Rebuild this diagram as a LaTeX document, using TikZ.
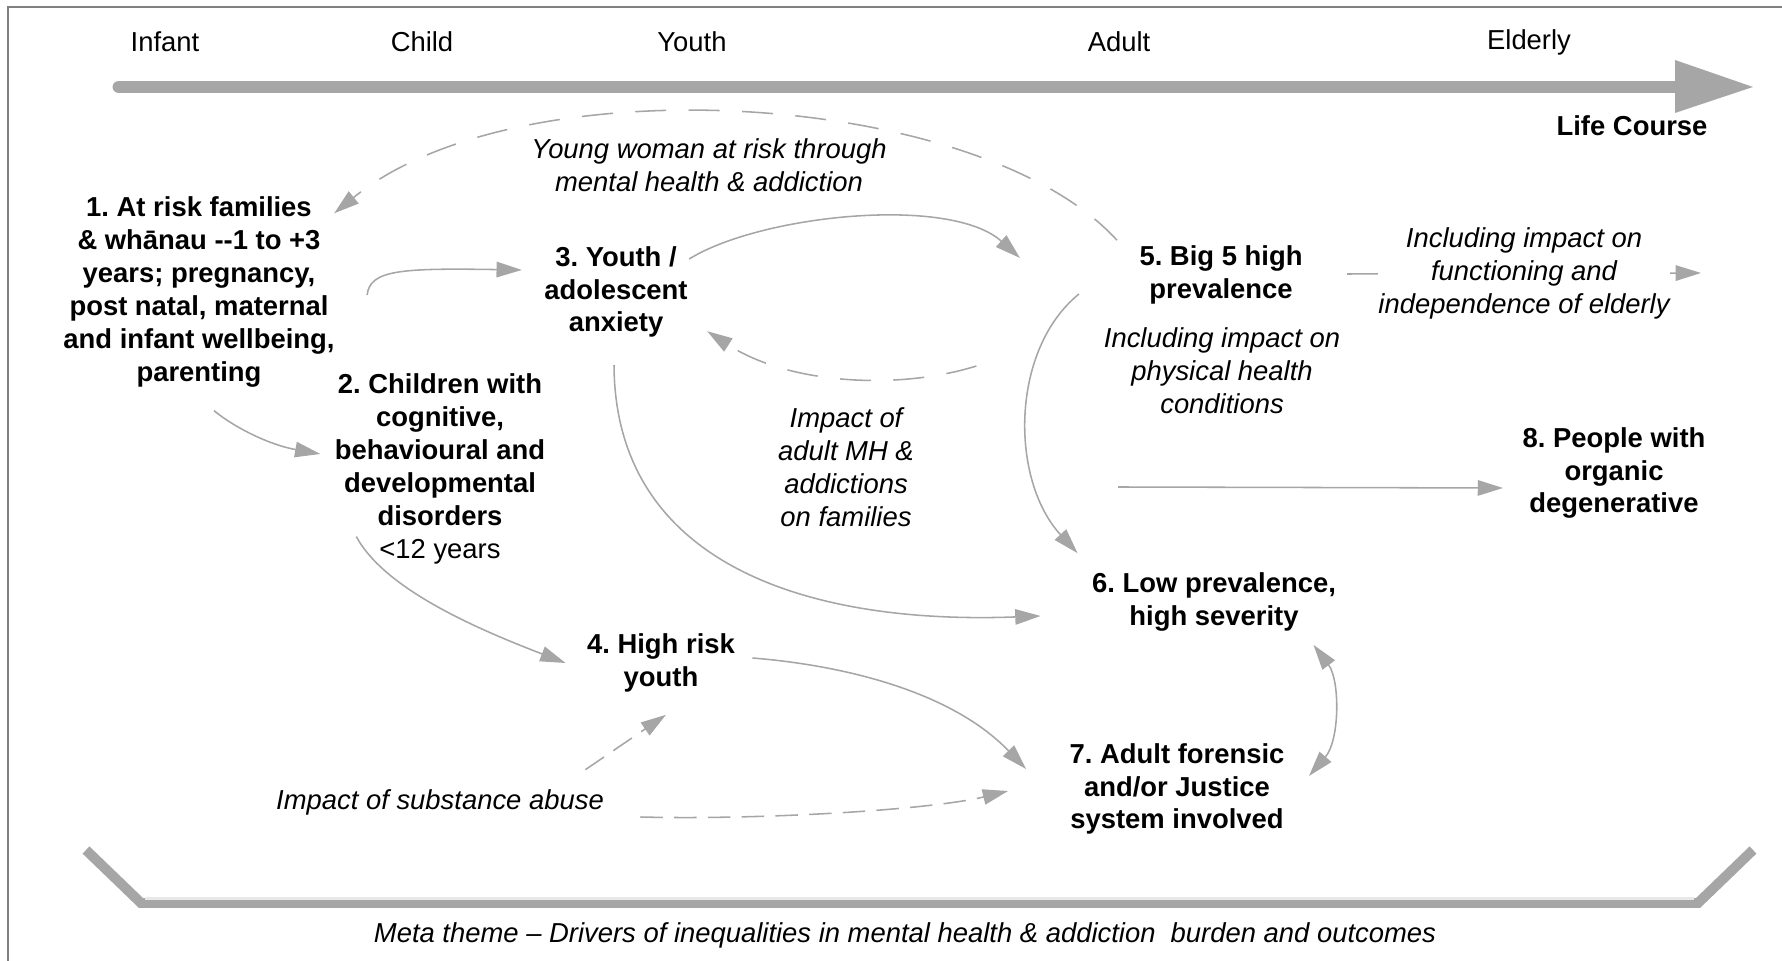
\documentclass[tikz,border=0pt]{standalone}
\usepackage{fontspec}
\setmainfont{Liberation Sans}
\usetikzlibrary{arrows.meta}
\definecolor{linkgray}{RGB}{166,166,166}
\definecolor{framegray}{RGB}{128,128,128}
\frenchspacing
\begin{document}
\begin{tikzpicture}[x=0.125mm, y=-0.125mm,
        txt/.style={font=\fontsize{9.75}{11.7}\selectfont, inner sep=0pt, align=center},
        group/.style={txt, font=\fontsize{9.75}{11.7}\selectfont\bfseries},
        note/.style={txt, font=\fontsize{9.75}{11.7}\selectfont\itshape},
        link/.style={draw=linkgray, line width=0.55pt, -{Triangle[length=9pt,width=5.5pt]}},
        dashlink/.style={link, dash pattern=on 11pt off 8pt},
        shortdash/.style={link, dash pattern=on 8pt off 4pt}]
    \useasboundingbox (0,0) rectangle (1782,961);
    \draw[framegray, line width=0.7pt] (8,961) -- (8,7) -- (1782,7);
    \coordinate (lifeStart) at (119,87);
    \coordinate (lifeEnd) at (1676,87);
    \draw[linkgray, line width=4.6pt, line cap=round] (lifeStart) -- (lifeEnd);
    \fill[linkgray] (1675,60) -- (1753,87) -- (1675,113) -- cycle;
    \draw[linkgray, line width=3.55pt] (86,850) -- (141,903) -- (1698,903) -- (1753,850);
    \draw[white!82!gray, line width=1pt] (145,898.5) -- (1694,898.5);
    \foreach \name/\x in {Infant/165, Child/422, Youth/692, Adult/1119, Elderly/1529}
        \node[txt] (\name) at (\x,42) {\name};
    \node[group] (life) at (1632,126) {Life Course};
    \node[group] (fam) at (199,292) {1. At risk families\\\& whānau -{}-1 to +3\\years; pregnancy,\\post natal, maternal\\and infant wellbeing,\\parenting};
    \node[group] (child) at (440,469) {2. Children with\\cognitive,\\behavioural and\\developmental\\disorders\\{\mdseries <12 years}};
    \node[group] (anx) at (616,292) {3. Youth /\\adolescent\\anxiety};
    \node[group] (risk) at (661,663) {4. High risk\\youth};
    \node[group] (big5) at (1221,275) {5. Big 5 high\\prevalence};
    \node[note] (big5note) at (1222,371) {Including impact on\\physical health\\conditions};
    \node[group] (sev) at (1214,602) {6. Low prevalence,\\high severity};
    \node[group] (forens) at (1177,789) {7. Adult forensic\\and/or Justice\\system involved};
    \node[group] (organic) at (1614,473) {8. People with\\organic\\degenerative};
    \node[note] (woman) at (709,165) {Young woman at risk through\\mental health \& addiction};
    \node[note] (famimpact) at (846,467) {Impact of\\adult MH \&\\addictions\\on families};
    \node[note] (substance) at (440,802) {Impact of substance abuse};
    \node[note] (meta) at (905,935) {Meta theme -- Drivers of inequalities in mental health \& addiction~ burden and outcomes};
    \coordinate (eldEnd) at (1701,273);
    \coordinate (orgStart) at (1118,487);
    \draw[dashlink] ([shift={(-22,-5)}]big5.north west) .. controls (980,90) and (520,62) .. ([shift={(-1,17)}]fam.north east);
    \draw[link] ([shift={(32,3)}]fam.east) .. controls (370,270) and (400,268) .. ([shift={(-22,-22)}]anx.west);
    \draw[link] ([shift={(15,23)}]fam.south) .. controls (235,428) and (270,445) .. ([shift={(-14,-15)}]child.west);
    \draw[link] ([shift={(1,-33)}]anx.east) .. controls (760,215) and (950,195) .. ([shift={(-119,-17)}]big5.west);
    \draw[dashlink] ([shift={(-127,-5)}]big5note.west) .. controls (900,390) and (790,385) .. ([shift={(19,-7)}]anx.south east);
    \draw[link] ([shift={(-2,27)}]anx.south) .. controls (615,560) and (800,625) .. ([shift={(-51,14)}]sev.west);
    \draw[link] ([shift={(-60,19)}]big5.west) .. controls (1010,350) and (1010,480) .. ([shift={(-14,-19)}]sev.north west);
    \draw[link] ([shift={(44,-1)}]big5.east) -- node[note, fill=white] (eldnote) {Including impact on\\functioning and\\independence of elderly} (eldEnd);
    \draw[link] (orgStart) -- ([shift={(-19,15)}]organic.west);
    \draw[link] ([shift={(22,-28)}]child.south west) .. controls (385,590) and (480,630) .. ([shift={(-21,0)}]risk.west);
    \draw[link] ([shift={(17,-5)}]risk.east) .. controls (840,665) and (950,690) .. ([shift={(-43,-20)}]forens.west);
    \draw[shortdash] ([shift={(-19,-19)}]substance.north east) -- ([shift={(5,22)}]risk.south);
    \draw[shortdash] ([shift={(36,15)}]substance.east) .. controls (760,820) and (930,810) .. ([shift={(-61,2)}]forens.west);
    \draw[link, {Triangle[length=9pt,width=5.5pt]}-{Triangle[length=9pt,width=5.5pt]}] ([shift={(-23,13)}]sev.south east) .. controls (1340,680) and (1340,740) .. ([shift={(24,-13)}]forens.east);
\end{tikzpicture}
\end{document}
